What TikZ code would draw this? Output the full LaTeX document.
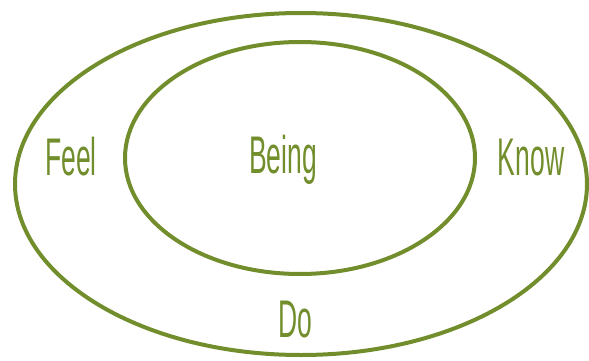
\documentclass[tikz,border=0pt]{standalone}
\usepackage{fontspec}
\newfontfamily\narrowsans[FakeStretch=0.5]{Liberation Sans}
\definecolor{olive}{RGB}{114,142,44}
\begin{document}
\begin{tikzpicture}[x=1pt,y=1pt,
  ring/.style={draw=olive, line width=4pt},
  lbl/.style={text=olive, font=\narrowsans\fontsize{53}{53}\selectfont, inner sep=0pt, anchor=base}]
\useasboundingbox (0,0) rectangle (589,360);
\draw[ring] (301,176) ellipse [x radius=286, y radius=171];
\draw[ring] (300,202) ellipse [x radius=175, y radius=116];
\node[lbl] (feel) at (71,185) {Feel};
\node[lbl] (being) at (283,187) {Being};
\node[lbl] (know) at (531,185) {Know};
\node[lbl] (do) at (295,23) {Do};
\end{tikzpicture}
\end{document}
